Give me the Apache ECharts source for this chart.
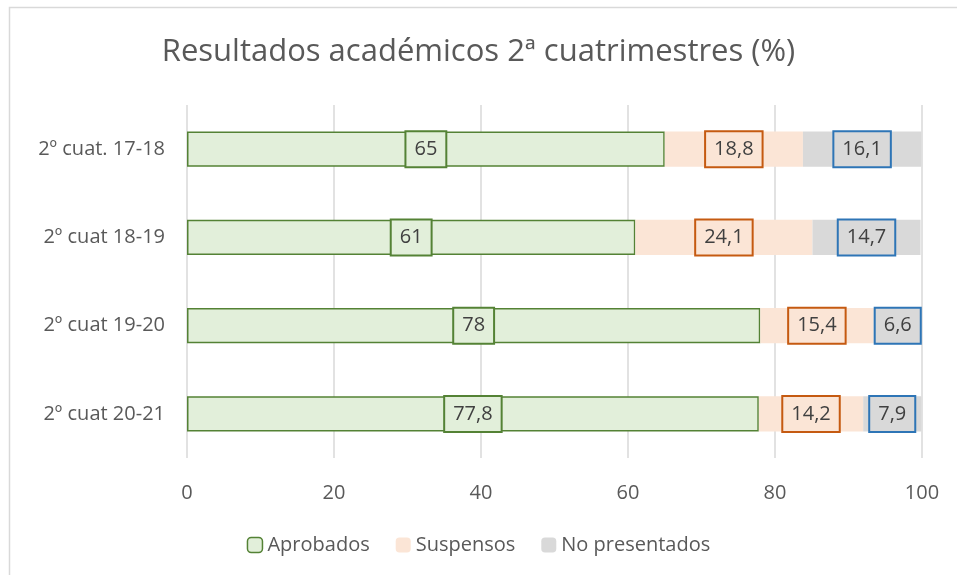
<!DOCTYPE html>
<html>
<head>
<meta charset="utf-8">
<script src="https://cdn.jsdelivr.net/npm/echarts@6/dist/echarts.min.js"></script>
<style>
  html, body { margin: 0; padding: 0; background: #fff; }
  #chart { width: 957px; height: 575px; }
</style>
</head>
<body>
<div id="chart"></div>
<script>
var categories = ['2º cuat. 17-18', '2º cuat 18-19', '2º cuat 19-20', '2º cuat 20-21'];
var aprobados = [65, 61, 78, 77.8];
var suspensos = [18.8, 24.1, 15.4, 14.2];
var noPresentados = [16.1, 14.7, 6.6, 7.9];
var xTicks = [0, 20, 40, 60, 80, 100];

var FONT = '"Open Sans", Lato, sans-serif';

function fmt(p) {
    return String(p.value).replace('.', ',');
}

function labelStyle(bg, border) {
    return {
        show: true,
        position: 'inside',
        formatter: fmt,
        color: '#404040',
        fontSize: 20,
        fontFamily: FONT,
        backgroundColor: bg,
        borderColor: border,
        borderWidth: 2,
        padding: [8, 8, 6, 8]
    };
}

var chart = echarts.init(document.getElementById('chart'));

var option = {
    animation: false,
    title: {
        text: 'Resultados académicos 2ª cuatrimestres (%)',
        left: 'center',
        top: 32,
        textStyle: {
            color: '#595959',
            fontSize: 31,
            fontWeight: 'normal',
            fontFamily: FONT
        }
    },
    graphic: [{
        type: 'rect',
        shape: { x: 9.5, y: 7.5, width: 1000, height: 1000 },
        style: { fill: 'none', stroke: '#d9d9d9', lineWidth: 1.5 },
        silent: true
    }],
    legend: {
        bottom: 15,
        left: 'center',
        itemWidth: 15,
        itemHeight: 15,
        itemGap: 26,
        itemTextGap: 5,
        textStyle: { color: '#595959', fontSize: 20, fontFamily: FONT },
        data: [
            { name: 'Aprobados', itemStyle: { borderColor: '#548235', borderWidth: 1.5 } },
            { name: 'Suspensos' },
            { name: 'No presentados' }
        ]
    },
    grid: {
        left: 187,
        right: 35,
        top: 105,
        bottom: 117,
        containLabel: false
    },
    xAxis: {
        type: 'value',
        min: xTicks[0],
        max: xTicks[xTicks.length - 1],
        interval: 20,
        axisLine: { show: false },
        axisTick: { show: false },
        splitLine: { lineStyle: { color: '#d9d9d9', width: 1.5 } },
        axisLabel: {
            color: '#595959',
            fontSize: 20,
            fontFamily: FONT,
            margin: 25
        }
    },
    yAxis: {
        type: 'category',
        inverse: true,
        data: categories,
        axisLine: { show: false },
        axisTick: { show: false },
        axisLabel: {
            color: '#595959',
            fontSize: 20,
            fontFamily: FONT,
            margin: 22
        }
    },
    series: [{
        name: 'Aprobados',
        type: 'bar',
        stack: 'total',
        barWidth: '40%',
        data: aprobados,
        itemStyle: { color: '#E2EFDA', borderColor: '#548235', borderWidth: 1.5 },
        label: labelStyle('#E2EFDA', '#548235')
    }, {
        name: 'Suspensos',
        type: 'bar',
        stack: 'total',
        data: suspensos,
        itemStyle: { color: '#FBE5D6' },
        label: labelStyle('#FBE5D6', '#C55A11')
    }, {
        name: 'No presentados',
        type: 'bar',
        stack: 'total',
        data: noPresentados,
        itemStyle: { color: '#D9D9D9' },
        label: labelStyle('#D9D9D9', '#2E75B6')
    }]
};

chart.setOption(option);
</script>
</body>
</html>
